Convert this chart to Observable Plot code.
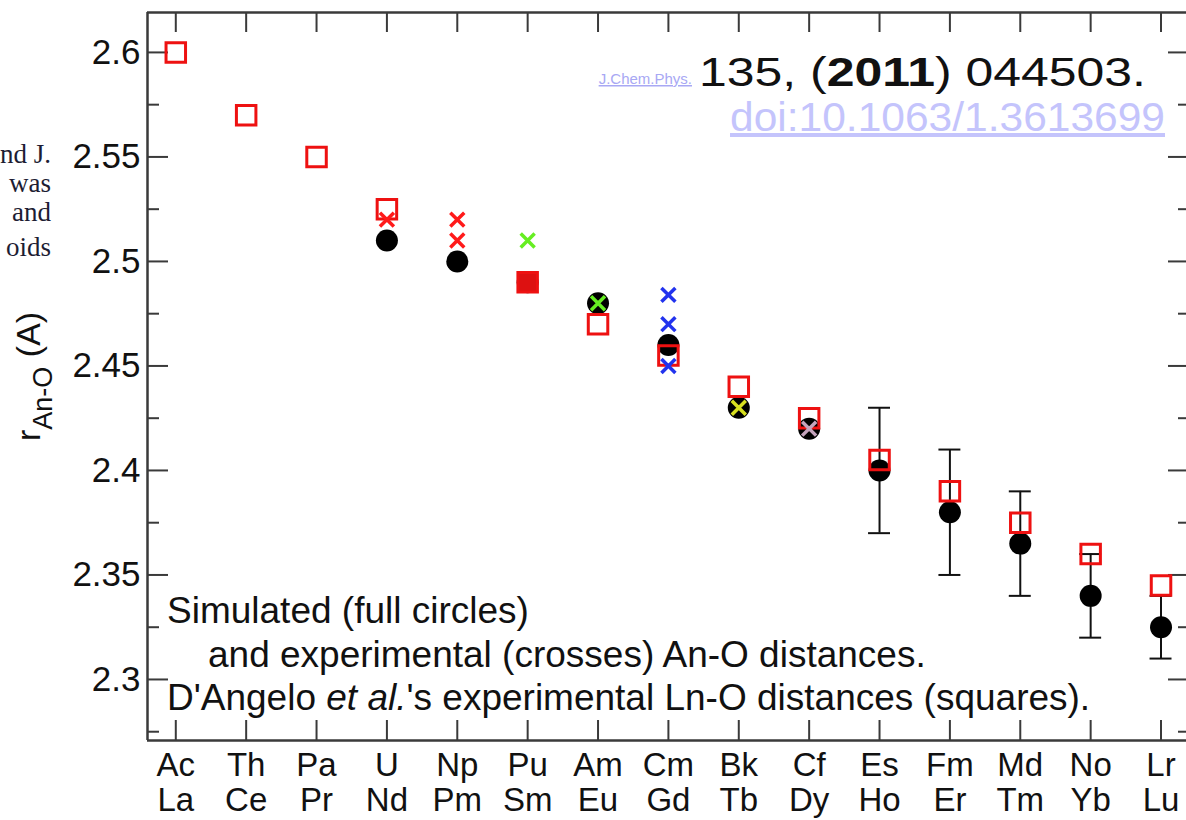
<!DOCTYPE html>
<html><head><meta charset="utf-8">
<script src="https://cdn.jsdelivr.net/npm/d3@7"></script>
<script src="https://cdn.jsdelivr.net/npm/@observablehq/plot@0.6"></script>
<style>
html,body{margin:0;padding:0;background:#fff;overflow:hidden}
</style></head><body><div id="chart"></div>
<script>
// ---- data ----
const actinides   = ["Ac","Th","Pa","U","Np","Pu","Am","Cm","Bk","Cf","Es","Fm","Md","No","Lr"];
const lanthanides = ["La","Ce","Pr","Nd","Pm","Sm","Eu","Gd","Tb","Dy","Ho","Er","Tm","Yb","Lu"];
// simulated An-O distances (full circles)
const simulated = [null,null,null,2.51,2.50,2.49,2.48,2.46,2.43,2.42,2.40,2.38,2.365,2.34,2.325];
const simLow    = [null,null,null,null,null,null,null,null,null,null,2.37,2.35,2.34,2.32,2.31];
const simHigh   = [null,null,null,null,null,null,null,null,null,null,2.43,2.41,2.39,2.36,2.34];
// D'Angelo et al. experimental Ln-O distances (squares)
const lnDistances = [2.60,2.57,2.55,2.525,null,2.49,2.47,2.455,2.44,2.425,2.405,2.39,2.375,2.36,2.345];
// experimental An-O distances (crosses)
const crossElement = ["U","Np","Np","Pu","Am","Cm","Cm","Cm","Bk","Cf"];
const crossValue   = [2.52,2.52,2.51,2.51,2.48,2.484,2.47,2.45,2.43,2.42];
const crossSource  = ["A","A","A","B","B","C","C","C","D","E"];
const sourceKeys   = ["A","B","C","D","E"];
const sourceColors = ["#ff1a1a","#66ee22","#2233ee","#d8e020","#c4a4bc"];
// axis ticks
const yMajor = [2.3,2.35,2.4,2.45,2.5,2.55,2.6];
const yMinor = [2.275,2.325,2.375,2.425,2.475,2.525,2.575];

// ---- tables ----
const idx = actinides.map((_, i) => i);
const sim = idx.filter(i => simulated[i] != null).map(i => ({i, v: simulated[i]}));
const err = idx.filter(i => simLow[i] != null).map(i => ({i, lo: simLow[i], hi: simHigh[i]}));
const sq = idx.filter(i => lnDistances[i] != null).map(i => ({i, v: lnDistances[i], an: actinides[i]}));
const crosses = crossElement.map((el, k) => ({i: actinides.indexOf(el), v: crossValue[k], src: crossSource[k]}));

const W = 1186, H = 820, mL = 147, mT = 12, mB = 80, mR = 0;
const plotW = W - mL - mR, plotH = H - mT - mB;
const xDom = [-0.402, 14.362], yDom = [2.2708, 2.6191];
const capHalf = 0.156;
const axisColor = "#3a3a3a";
const font = "Liberation Sans, Arial, Helvetica, sans-serif";

const plot = Plot.plot({
  width: W, height: H,
  marginLeft: mL, marginRight: mR, marginTop: mT, marginBottom: mB,
  x: {domain: xDom},
  y: {domain: yDom},
  color: {domain: sourceKeys, range: sourceColors},
  style: {fontFamily: font, background: "white"},
  marks: [
    // frame (left, top, bottom)
    Plot.ruleX([xDom[0]], {stroke: axisColor, strokeWidth: 2.5}),
    Plot.ruleY([yDom[0], yDom[1]], {stroke: axisColor, strokeWidth: 2.5}),
    // inward ticks
    Plot.ruleY(yMajor, {y: d => d, insetRight: plotW - 21, stroke: axisColor, strokeWidth: 2}),
    Plot.ruleY(yMinor, {y: d => d, insetRight: plotW - 12, stroke: axisColor, strokeWidth: 2}),
    Plot.ruleY(yMajor, {y: d => d, insetLeft: plotW - 18, stroke: axisColor, strokeWidth: 2}),
    Plot.ruleY(yMinor, {y: d => d, insetLeft: plotW - 8, stroke: axisColor, strokeWidth: 2}),
    Plot.ruleX(idx, {x: d => d, insetTop: plotH - 20, stroke: axisColor, strokeWidth: 2}),
    Plot.ruleX(idx, {x: d => d, insetBottom: plotH - 20, stroke: axisColor, strokeWidth: 2}),
    // axes labels
    Plot.axisY({ticks: yMajor, tickSize: 0, tickPadding: 7, fontSize: 35, label: null,
      tickFormat: d => String(+d.toFixed(3)), color: "#111"}),
    Plot.axisX({ticks: idx, tickSize: 0, tickPadding: 10, fontSize: 33, label: null, lineHeight: 1.07,
      tickFormat: i => actinides[i] + "\n" + lanthanides[i], color: "#111"}),
    // error bars
    Plot.ruleX(err, {x: "i", y1: "lo", y2: "hi", stroke: "#111", strokeWidth: 2}),
    Plot.ruleY(err, {y: "lo", x1: d => d.i - capHalf, x2: d => d.i + capHalf, stroke: "#111", strokeWidth: 2}),
    Plot.ruleY(err, {y: "hi", x1: d => d.i - capHalf, x2: d => d.i + capHalf, stroke: "#111", strokeWidth: 2}),
    // simulated circles
    Plot.dot(sim, {x: "i", y: "v", r: 11, fill: "black", stroke: "none"}),
    // Ln squares
    Plot.dot(sq, {x: "i", y: "v", symbol: "square", r: 11, stroke: "#ee1111", strokeWidth: 3,
      fill: d => d.an === "Pu" ? "#dd1111" : "none"}),
    // experimental crosses
    Plot.dot(crosses, {x: "i", y: "v", symbol: "times", r: 6.4, stroke: "src", strokeWidth: 3.5})
  ]
});
document.getElementById("chart").appendChild(plot);

// ---- annotations ----
const svg = d3.select(plot);

// y-axis title: r_{An-O} (A)
const yt = svg.append("text").attr("transform", "translate(40,441) rotate(-90)")
  .attr("text-anchor", "start").attr("font-family", font).attr("font-size", 34).attr("fill", "#111");
yt.append("tspan").text("r");
yt.append("tspan").attr("font-size", 27).attr("dy", 12).text("An-O");
yt.append("tspan").attr("dy", -12).text(" (A)");

// clipped page text on the left (serif)
const serif = [["nd J.", 163], ["was", 192], ["and", 221], ["oids", 256]];
serif.forEach(([t, y]) => svg.append("text").attr("x", 51).attr("y", y).attr("text-anchor", "end")
  .attr("font-family", "Liberation Serif, Times New Roman, serif").attr("font-size", 27)
  .attr("fill", "#1d1d33").text(t));

// citation
const cit = svg.append("text").attr("x", 1146).attr("y", 86).attr("text-anchor", "end")
  .attr("font-family", font).attr("font-size", 40).attr("fill", "#111")
  .attr("textLength", 447).attr("lengthAdjust", "spacingAndGlyphs");
cit.append("tspan").text("135, (");
cit.append("tspan").attr("font-weight", "bold").text("2011");
cit.append("tspan").text(") 044503.");
svg.append("text").attr("x", 692).attr("y", 84).attr("text-anchor", "end")
  .attr("font-family", font).attr("font-size", 15).attr("fill", "#a8a8f4")
  .attr("text-decoration", "underline").text("J.Chem.Phys.");
svg.append("text").attr("x", 1165).attr("y", 131).attr("text-anchor", "end")
  .attr("font-family", font).attr("font-size", 40).attr("fill", "#c4c4fc")
  .attr("textLength", 435).attr("lengthAdjust", "spacingAndGlyphs")
  .attr("text-decoration", "underline").text("doi:10.1063/1.3613699");

// legend text
const leg = [
  {x: 167, y: 623, parts: [["Simulated (full circles)", false]]},
  {x: 208, y: 667, parts: [["and experimental (crosses) An-O distances.", false]]},
  {x: 167, y: 710, parts: [["D'Angelo ", false], ["et al.", true], ["'s experimental Ln-O distances (squares).", false]]}
];
leg.forEach(l => {
  const t = svg.append("text").attr("x", l.x).attr("y", l.y).attr("text-anchor", "start")
    .attr("font-family", font).attr("font-size", 37).attr("fill", "#111");
  l.parts.forEach(([s, it]) => t.append("tspan").attr("font-style", it ? "italic" : "normal").text(s));
});
</script></body></html>
